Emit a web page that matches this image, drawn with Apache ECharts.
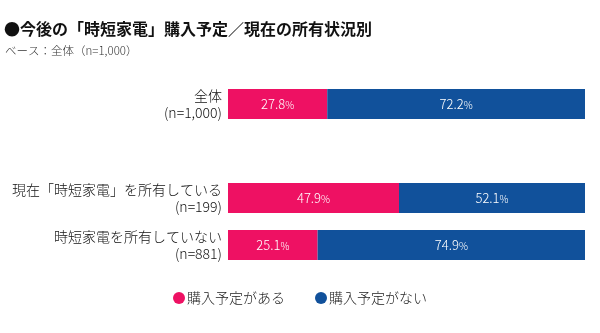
<!DOCTYPE html>
<html><head><meta charset="utf-8">
<script src="https://cdn.jsdelivr.net/npm/echarts@6/dist/echarts.min.js"></script>
<style>html,body{margin:0;padding:0;background:#fff}#c{width:600px;height:333px}</style>
</head><body><div id="c"></div>
<script>
const categories = ['全体\n(n=1,000)', '', '現在「時短家電」を所有している\n(n=199)', '時短家電を所有していない\n(n=881)'];
const seriesNames = ['購入予定がある', '購入予定がない'];
const planYes = [27.8, null, 47.9, 25.1];
const planNo = [72.2, null, 52.1, 74.9];
const colors = ['#EE1163', '#11519B'];
const FONT = '"Noto Sans CJK JP", "Noto Sans", sans-serif';

const chart = echarts.init(document.getElementById('c'), null, {renderer: 'canvas'});
const labelOpt = {
  show: true, position: 'inside',
  formatter: p => p.value == null ? '' : '{n|' + p.value.toFixed(1) + '}{p|%}',
  rich: {
    n: {color: '#fff', fontSize: 13, fontFamily: FONT, fontWeight: 300},
    p: {color: '#fff', fontSize: 10, fontFamily: FONT, fontWeight: 300, padding: [2, 0, 0, 0]}
  }
};
chart.setOption({
  animation: false,
  textStyle: {fontFamily: FONT},
  title: [
    {text: '●今後の「時短家電」購入予定／現在の所有状況別', left: -1, top: 16,
     textStyle: {fontSize: 16, fontWeight: 'bold', color: '#111', fontFamily: FONT}},
    {text: 'ベース：全体（n=1,000）', left: 0, top: 40,
     textStyle: {fontSize: 11.5, fontWeight: 300, color: '#333', fontFamily: FONT}}
  ],
  legend: {
    data: seriesNames, bottom: 23, left: 'center', icon: 'circle',
    itemWidth: 12, itemHeight: 12, itemGap: 30,
    textStyle: {fontSize: 14, fontWeight: 300, color: '#222', fontFamily: FONT, padding: [0, 0, 0, -3]}
  },
  grid: {left: 228, right: 15, top: 80.5, height: 188},
  xAxis: {type: 'value', min: 0, max: 100, show: false},
  yAxis: {
    type: 'category', data: categories, inverse: true,
    axisLine: {show: false}, axisTick: {show: false},
    axisLabel: {fontSize: 14, fontWeight: 300, color: '#111', lineHeight: 17, align: 'right', margin: 6, fontFamily: FONT}
  },
  series: [
    {name: seriesNames[0], type: 'bar', stack: 'a', data: planYes, barWidth: 30,
     itemStyle: {color: colors[0]}, label: labelOpt},
    {name: seriesNames[1], type: 'bar', stack: 'a', data: planNo, barWidth: 30,
     itemStyle: {color: colors[1]}, label: labelOpt}
  ]
});
</script></body></html>
